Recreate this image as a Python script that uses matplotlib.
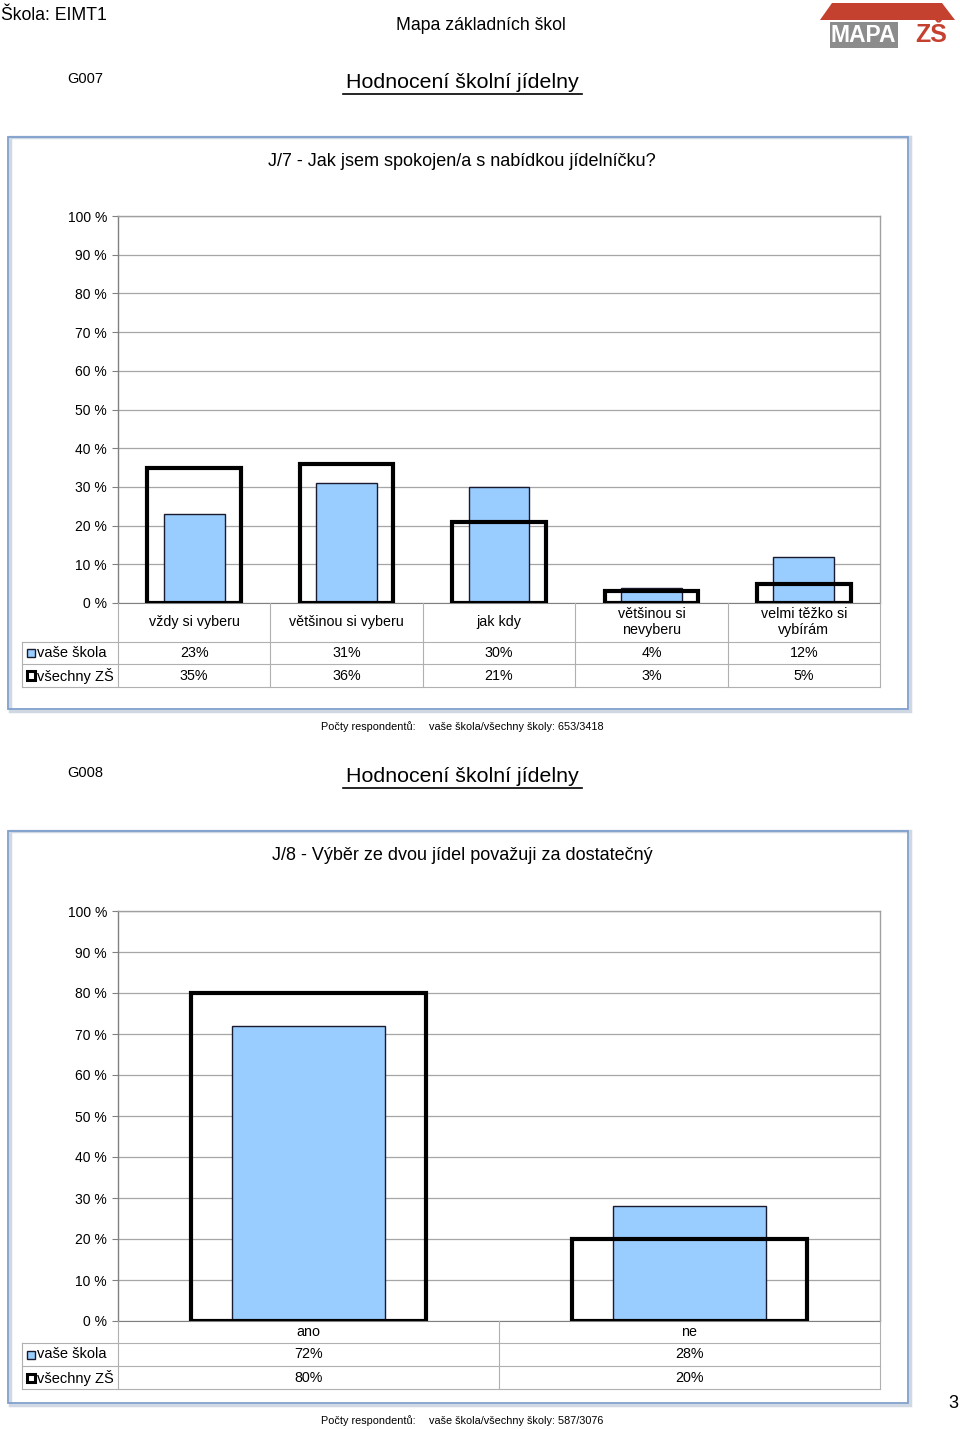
import numpy as np
import matplotlib
matplotlib.use("Agg")
import matplotlib.pyplot as plt
from matplotlib.patches import Rectangle, Polygon

plt.rcParams['font.family'] = ['Liberation Sans', 'DejaVu Sans']

W, H = 960, 1429

# chart G007
cats1 = ["vždy si vyberu", "většinou si vyberu", "jak kdy", "většinou si\nnevyberu", "velmi těžko si\nvybírám"]
vase1 = [23, 31, 30, 4, 12]
vsechny1 = [35, 36, 21, 3, 5]

# chart G008
cats2 = ["ano", "ne"]
vase2 = [72, 28]
vsechny2 = [80, 20]

yticks = list(range(0, 101, 10))
ylabels = [f"{v} %" for v in yticks]

BLUE = "#99CCFF"
GRID = "#A6A6A6"
TLINE = "#B0B0B0"


def fx(x):
    return x / W


def fy(y):
    return 1 - y / H


def ftext(fig, x, y, s, **kw):
    fig.text(fx(x), fy(y), s, **kw)


def hline(fig, x0, x1, y, color=TLINE, lw=0.8):
    fig.add_artist(plt.Line2D([fx(x0), fx(x1)], [fy(y), fy(y)], color=color, lw=lw))


def vline(fig, x, y0, y1, color=TLINE, lw=0.8):
    fig.add_artist(plt.Line2D([fx(x), fx(x)], [fy(y0), fy(y1)], color=color, lw=lw))


def panel(fig, code, question, top, cats, vase, vsechny, counts,
          plot_top, plot_bot, row1, row2, row3, label_y):
    # section header
    ftext(fig, 85, top - 58, code, fontsize=10.5, ha="center", va="center")
    ftext(fig, 462, top - 55, "Hodnocení školní jídelny", fontsize=15.4, ha="center", va="center")
    hline(fig, 343, 582, top - 43, color="black", lw=1.2)

    # panel frame
    fig.add_artist(Rectangle((fx(10), fy(top + 574)), fx(900), 574 / H,
                             transform=fig.transFigure, fill=False,
                             edgecolor="#D0D8E4", lw=2.5, zorder=0))
    fig.add_artist(Rectangle((fx(8), fy(top + 572)), fx(900), 572 / H,
                             transform=fig.transFigure, fill=False,
                             edgecolor="#7FA0CC", lw=1.3, zorder=1))
    ftext(fig, 462, top + 24, question, fontsize=13, ha="center", va="center")

    # plot area
    ax = fig.add_axes([fx(118), fy(plot_bot), fx(880) - fx(118), (plot_bot - plot_top) / H])
    n = len(cats)
    x = np.arange(n)
    ax.set_xlim(-0.5, n - 0.5)
    ax.set_ylim(0, 100)
    ax.set_yticks(yticks)
    ax.set_yticklabels(ylabels, fontsize=10)
    ax.set_xticks([])
    ax.tick_params(axis="y", length=4, color="#808080", pad=4)
    for s in ["left", "top", "right"]:
        ax.spines[s].set_color("#A0A0A0")
        ax.spines[s].set_linewidth(1.0)
    ax.spines["left"].set_color("#808080")
    ax.spines["bottom"].set_color("#808080")
    ax.grid(axis="y", color=GRID, lw=0.9)
    ax.set_axisbelow(True)
    ax.bar(x, vase, width=0.4, color=BLUE, edgecolor="#1A1A2E", lw=1.0, zorder=2)
    ax.bar(x, vsechny, width=0.615, fill=False, edgecolor="black", lw=3.0, zorder=3)

    # data table
    cw = (880 - 118) / n
    hline(fig, 22, 880, row1)
    hline(fig, 22, 880, row2)
    hline(fig, 22, 880, row3)
    vline(fig, 22, row1, row3)
    for i in range(n + 1):
        vline(fig, 118 + i * cw, plot_bot, row3)
    for i, c in enumerate(cats):
        cx = 118 + (i + 0.5) * cw
        ftext(fig, cx, label_y, c, fontsize=10.3, ha="center", va="center", linespacing=1.1)
        ftext(fig, cx, (row1 + row2) / 2, f"{vase[i]}%", fontsize=10.3, ha="center", va="center")
        ftext(fig, cx, (row2 + row3) / 2, f"{vsechny[i]}%", fontsize=10.3, ha="center", va="center")

    # legend keys
    for r0, r1, lab, fc, ec, lw in [(row1, row2, "vaše škola", BLUE, "#1A1A2E", 1.0),
                                    (row2, row3, "všechny ZŠ", "white", "black", 2.2)]:
        cy = (r0 + r1) / 2
        fig.add_artist(Rectangle((fx(27), fy(cy + 4)), 8 / W, 8 / H,
                                 transform=fig.transFigure, facecolor=fc, edgecolor=ec, lw=lw))
        ftext(fig, 37, cy, lab, fontsize=10.5, ha="left", va="center")

    ftext(fig, 368.5, top + 590, "Počty respondentů:", fontsize=7.8, ha="center", va="center")
    ftext(fig, 516, top + 590, f"vaše škola/všechny školy: {counts}", fontsize=7.8,
          ha="center", va="center")
    return ax


fig = plt.figure(figsize=(W / 100, H / 100), dpi=100)

# page header
ftext(fig, 1, 15, "Škola: EIMT1", fontsize=12.7, ha="left", va="center")
ftext(fig, 481, 25, "Mapa základních škol", fontsize=12.7, ha="center", va="center")

# logo
fig.add_artist(Polygon([(fx(820), fy(20)), (fx(832), fy(3)), (fx(942), fy(3)), (fx(955), fy(20))],
                       closed=True, transform=fig.transFigure, facecolor="#C4402F", edgecolor="none"))
ftext(fig, 831, 35, "MAPA", fontsize=16.5, fontweight="bold", color="white", ha="left", va="center",
      bbox=dict(boxstyle="square,pad=0.06", facecolor="#8C8C8C", edgecolor="none"))
ftext(fig, 915, 35, "ZŠ", fontsize=18, fontweight="bold", color="#C4402F", ha="left", va="center")

panel(fig, "G007", "J/7 - Jak jsem spokojen/a s nabídkou jídelníčku?", 137,
      cats1, vase1, vsechny1, "653/3418",
      plot_top=216, plot_bot=603, row1=642, row2=664, row3=687, label_y=622)
panel(fig, "G008", "J/8 - Výběr ze dvou jídel považuji za dostatečný", 831,
      cats2, vase2, vsechny2, "587/3076",
      plot_top=911, plot_bot=1321, row1=1343, row2=1366, row3=1389, label_y=1332)

ftext(fig, 953, 1403, "3", fontsize=13, ha="center", va="center")

fig.savefig("out.png", dpi=100)
